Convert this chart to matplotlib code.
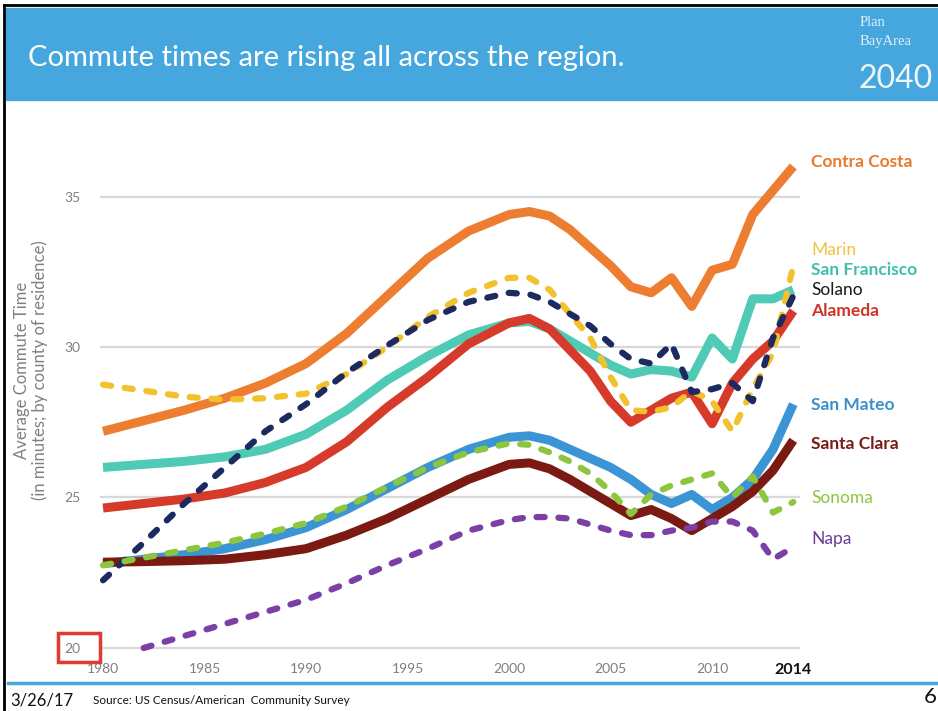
import matplotlib.pyplot as plt
import numpy as np
from matplotlib.patches import Rectangle
from matplotlib.lines import Line2D

plt.rcParams['font.family'] = ['Lato', 'DejaVu Sans']

# years (census 1980-2000, ACS 2005-2014)
years = [1980, 1982, 1984, 1986, 1988, 1990, 1992, 1994, 1996, 1998,
         2000, 2001, 2002, 2003, 2004, 2005, 2006, 2007, 2008, 2009,
         2010, 2011, 2012, 2013, 2014]

contra_costa = [27.2, 27.55, 27.9, 28.3, 28.8, 29.45, 30.45, 31.7, 32.95, 33.85,
                34.4, 34.5, 34.35, 33.9, 33.3, 32.7, 32.0, 31.8, 32.3, 31.35,
                32.55, 32.75, 34.4, 35.2, 36.0]
marin = [28.75, 28.55, 28.35, 28.25, 28.3, 28.45, 29.1, 30.0, 31.0, 31.8,
         32.3, 32.3, 31.9, 31.1, 30.3, 29.0, 27.9, 27.85, 28.0, 28.55,
         28.2, 27.2, 28.6, 29.8, 32.7]
san_francisco = [26.0, 26.1, 26.2, 26.35, 26.6, 27.1, 27.9, 28.9, 29.7, 30.4,
                 30.8, 30.85, 30.6, 30.2, 29.8, 29.4, 29.1, 29.25, 29.2, 29.0,
                 30.3, 29.6, 31.6, 31.6, 31.9]
solano = [22.25, 23.5, 24.8, 26.0, 27.2, 28.1, 29.15, 30.05, 30.9, 31.5,
          31.8, 31.75, 31.5, 31.1, 30.7, 30.1, 29.6, 29.45, 30.1, 28.5,
          28.6, 28.8, 28.2, 30.3, 31.7]
alameda = [24.65, 24.8, 24.95, 25.15, 25.5, 26.0, 26.85, 28.0, 29.0, 30.1,
           30.8, 30.95, 30.6, 29.9, 29.2, 28.2, 27.5, 27.9, 28.3, 28.5,
           27.45, 28.8, 29.6, 30.2, 31.2]
san_mateo = [22.8, 22.95, 23.1, 23.3, 23.6, 24.0, 24.6, 25.3, 26.0, 26.6,
             27.0, 27.05, 26.9, 26.6, 26.3, 26.0, 25.6, 25.1, 24.8, 25.1,
             24.6, 25.0, 25.6, 26.6, 28.1]
santa_clara = [22.85, 22.87, 22.9, 22.95, 23.1, 23.3, 23.75, 24.3, 24.95, 25.6,
               26.1, 26.15, 25.95, 25.6, 25.2, 24.8, 24.4, 24.6, 24.3, 23.9,
               24.3, 24.7, 25.2, 25.9, 26.9]
sonoma = [22.75, 23.0, 23.25, 23.5, 23.8, 24.15, 24.7, 25.35, 26.0, 26.5,
          26.8, 26.75, 26.5, 26.2, 25.8, 25.2, 24.45, 25.1, 25.4, 25.6,
          25.8, 25.0, 25.7, 24.5, 24.85]
napa = [np.nan, 20.0, 20.4, 20.8, 21.2, 21.6, 22.15, 22.75, 23.3, 23.9,
        24.25, 24.35, 24.35, 24.3, 24.1, 23.9, 23.75, 23.75, 23.9, 24.0,
        24.2, 24.2, 23.9, 22.95, 23.35]

# name, data, line colour, label colour, dashed, bold label, label y
series = [
    ('Contra Costa', contra_costa, '#ed7d31', '#e8792e', False, True, 36.15),
    ('San Francisco', san_francisco, '#4fcab5', '#3fbfae', False, True, 32.56),
    ('Alameda', alameda, '#d63a2a', '#d03428', False, True, 31.2),
    ('San Mateo', san_mateo, '#3b94d4', '#3d8fcc', False, True, 28.07),
    ('Santa Clara', santa_clara, '#7a1a12', '#7a1a12', False, True, 26.78),
    ('Marin', marin, '#f2c12e', '#f0c244', True, False, 33.22),
    ('Solano', solano, '#1c2a60', '#1a1a1a', True, False, 31.9),
    ('Sonoma', sonoma, '#8cc63f', '#8cc63f', True, False, 24.98),
    ('Napa', napa, '#7b3fa6', '#6a3d96', True, False, 23.62),
]

W, H = 938, 711
fig = plt.figure(figsize=(W / 100, H / 100), dpi=100)


def fx(px):
    return px / W


def fy(py):
    return 1 - py / H


# slide frame and header band
blue = '#46a7de'
fig.patches.append(Rectangle((fx(6), fy(100)), 1, fy(8) - fy(100),
                             transform=fig.transFigure, color=blue, zorder=0))
fig.add_artist(Line2D([fx(4), fx(4)], [0, fy(5)], color='black', lw=2))
fig.add_artist(Line2D([fx(4), 1], [fy(5), fy(5)], color='black', lw=2))
fig.add_artist(Line2D([fx(8), 1], [fy(683), fy(683)], color=blue, lw=2.5))

fig.text(fx(28), fy(58), 'Commute times are rising all across the region.',
         color='white', fontsize=21, va='center', ha='left')
fig.text(fx(860), fy(22), 'Plan', color='#e4eef7', fontsize=10.5,
         family='Liberation Serif', va='center')
fig.text(fx(860), fy(41), 'BayArea', color='#e4eef7', fontsize=10.5,
         family='Liberation Serif', va='center')
fig.text(fx(858), fy(79), '2040', color='#eef5fb', fontsize=23,
         va='center')

# footer
fig.text(fx(10), fy(700), '3/26/17', fontsize=12, va='center', color='#111111')
fig.text(fx(93), fy(701), 'Source: US Census/American  Community Survey',
         fontsize=8.5, va='center', color='#111111')
fig.text(fx(924), fy(697), '6', fontsize=16, va='center', color='#111111')

# chart
ax = fig.add_axes([fx(100), fy(652), fx(800) - fx(100), fy(150) - fy(652)])
ax.set_xlim(1979.85, 2014.33)
ax.set_ylim(19.867, 36.545)
for v in [20, 25, 30, 35]:
    ax.axhline(v, color='#d9d9d9', lw=1.6, zorder=1)

for name, vals, col, lcol, dashed, bold, ly in series:
    if dashed:
        ax.plot(years, vals, color=col, lw=4.5, dashes=(1.3, 2.2),
                dash_capstyle='round', dash_joinstyle='round', zorder=3)
    else:
        ax.plot(years, vals, color=col, lw=6.5, solid_capstyle='butt',
                solid_joinstyle='round', zorder=2)
    ax.text(2014.87, ly, name, color=lcol, fontsize=12.5, va='center', ha='left',
            fontweight='bold' if bold else 'normal', clip_on=False)

for s in ax.spines.values():
    s.set_visible(False)
ax.set_yticks([20, 25, 30, 35])
ax.set_yticklabels(['20', '25', '30', '35'])
ax.tick_params(axis='y', length=0, pad=14, labelsize=10, labelcolor='#7f7f7f')
xt = [1980, 1985, 1990, 1995, 2000, 2005, 2010, 2014]
ax.set_xticks(xt)
ax.set_xticklabels([str(x) for x in xt])
ax.tick_params(axis='x', length=0, pad=8, labelsize=10, labelcolor='#7f7f7f')
last = ax.get_xticklabels()[-1]
last.set_fontweight('bold')
last.set_color('#111111')
last.set_fontsize(11.5)

fig.text(fx(31), fy(370), 'Average Commute Time\n(in minutes; by county of residence)',
         rotation=90, ha='center', va='center', color='#808080', fontsize=12,
         linespacing=1.05)

# red box around the 20 tick
fig.patches.append(Rectangle((fx(58), fy(662)), fx(100) - fx(58), fy(633) - fy(662),
                             transform=fig.transFigure, fill=False,
                             edgecolor='#e03a32', lw=2.5, zorder=5))

fig.savefig('out.png', dpi=100)
